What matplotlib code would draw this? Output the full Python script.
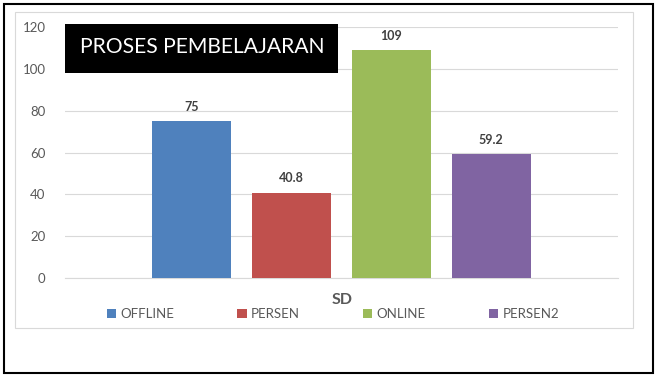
import matplotlib
matplotlib.use("Agg")
import matplotlib.pyplot as plt
from matplotlib.patches import Rectangle, Patch

categories = ["OFFLINE", "PERSEN", "ONLINE", "PERSEN2"]
values = [75, 40.8, 109, 59.2]
value_labels = ["75", "40.8", "109", "59.2"]
colors = ["#4F81BD", "#C0504D", "#9BBB59", "#8064A2"]
yticks = [0, 20, 40, 60, 80, 100, 120]
title = "PROSES PEMBELAJARAN"
xlabel = "SD"

plt.rcParams['font.family'] = ['Lato', 'DejaVu Sans']

fig = plt.figure(figsize=(6.61, 3.78), dpi=100)
W, H = 661, 378

# outer border
fig.patches.append(Rectangle((4 / W, 1 - 373 / H), 649 / W, 369 / H, transform=fig.transFigure,
                             fill=False, edgecolor="black", linewidth=1.5))
# inner chart border
fig.patches.append(Rectangle((15 / W, 1 - 328 / H), 618 / W, 316 / H, transform=fig.transFigure,
                             fill=False, edgecolor="#D9D9D9", linewidth=0.8))

ax = fig.add_axes([65 / W, 1 - 278 / H, 553 / W, 251 / H])
x = list(range(len(categories)))
bars = ax.bar(x, values, width=0.79, color=colors, zorder=3)
for xi, v, lab in zip(x, values, value_labels):
    ax.annotate(lab, (xi, v), xytext=(0, 6), textcoords="offset points", ha="center", va="bottom",
                fontsize=9, fontweight="bold", color="#404040")

ax.set_xlim(-1.27, 4.27)
ax.set_ylim(0, 120)
ax.set_yticks(yticks)
ax.set_yticklabels([str(t) for t in yticks], fontsize=9.5, color="#595959")
ax.set_xticks([])
ax.grid(axis="y", color="#D9D9D9", linewidth=0.8, zorder=0)
for s in ["top", "right", "left"]:
    ax.spines[s].set_visible(False)
ax.spines["bottom"].set_color("#D9D9D9")
ax.tick_params(axis="y", length=0, pad=14)
ax.set_facecolor("none")

# x label
fig.text(342 / W, 1 - 300 / H, xlabel, ha="center", va="center", fontsize=11.5,
         fontweight="bold", color="#595959")

# legend
handles = [Patch(facecolor=c, edgecolor="none") for c in colors]
leg = fig.legend(handles, categories, loc="center", bbox_to_anchor=(333 / W, 1 - 314 / H), ncol=4,
                 frameon=False, fontsize=9.5, handlelength=0.7, handleheight=0.7, handletextpad=0.35,
                 columnspacing=4.75, labelcolor="#595959")

# title box
fig.patches.append(Rectangle((65 / W, 1 - 73 / H), 273 / W, 49 / H, transform=fig.transFigure,
                             facecolor="black", edgecolor="none", zorder=5))
fig.text(202 / W, 1 - 47 / H, title, ha="center", va="center", fontsize=15.2, color="white", zorder=6)

fig.savefig("out.png", dpi=100)
